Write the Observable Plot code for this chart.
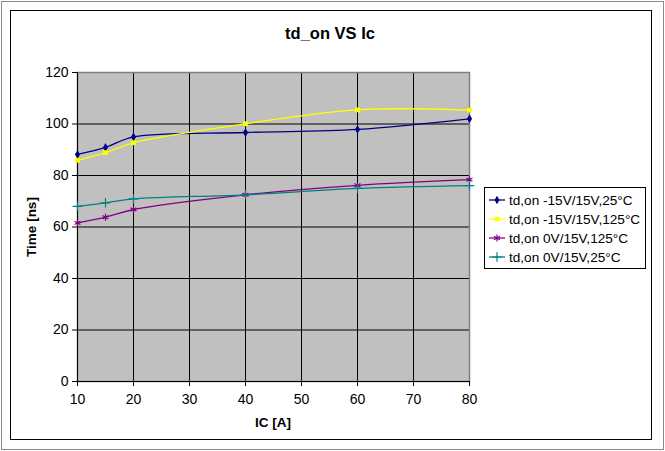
<!DOCTYPE html>
<html><head><meta charset="utf-8">
<script src="https://cdn.jsdelivr.net/npm/d3@7"></script>
<script src="https://cdn.jsdelivr.net/npm/@observablehq/plot@0.6"></script>
<style>
html,body{margin:0;padding:0;background:#fff;}
#wrap{position:relative;width:665px;height:451px;overflow:hidden;font-family:"Liberation Sans",Arial,sans-serif;}
#outer{position:absolute;left:1px;top:1px;width:661px;height:447px;border:1px solid #8a8a8a;box-sizing:content-box;}
#inner{position:absolute;left:10px;top:10px;width:640px;height:428px;border:1px solid #000;}
#chart{position:absolute;left:0;top:0;}
#title{position:absolute;left:285px;width:90px;top:24px;text-align:center;font-weight:bold;font-size:16.5px;white-space:nowrap;}
#ytitle{position:absolute;left:31px;top:227px;transform:translate(-50%,-50%) rotate(-90deg);font-weight:bold;font-size:13.5px;white-space:nowrap;}
#xtitle{position:absolute;left:273px;top:415px;transform:translateX(-50%);font-weight:bold;font-size:13.5px;white-space:nowrap;}
#legend{position:absolute;left:484px;top:187px;width:160px;height:80px;border:1px solid #000;background:#fff;}
.li{position:absolute;left:2px;height:18px;display:flex;align-items:center;font-size:13.6px;white-space:nowrap;}
.li svg{margin-right:2px;}
</style></head>
<body>
<div id="wrap">
  <div id="outer"></div>
  <div id="inner"></div>
  <div id="chart"></div>
  <div id="title">td_on VS Ic</div>
  <div id="ytitle">Time [ns]</div>
  <div id="xtitle">IC [A]</div>
  <div id="legend"></div>
</div>
<script>
const currents = [10, 15, 20, 40, 60, 80];
const seriesNames = ["td,on -15V/15V,25°C", "td,on -15V/15V,125°C", "td,on 0V/15V,125°C", "td,on 0V/15V,25°C"];
const s1 = [88.2, 90.9, 95.0, 96.7, 97.9, 102.0];
const s2 = [85.9, 88.9, 92.7, 100.1, 105.5, 105.4];
const s3 = [61.6, 63.8, 66.8, 72.5, 76.2, 78.4];
const s4 = [68.0, 69.4, 70.9, 72.5, 75.0, 76.1];
const xTicks = [10, 20, 30, 40, 50, 60, 70, 80];
const yTicks = [0, 20, 40, 60, 80, 100, 120];

const colors = ["#000080", "#ffff00", "#800080", "#008080"];
const symbols = ["diamond", "square", "asterisk", "plus"];
const filled = [true, true, false, false];
const values = [s1, s2, s3, s4];

const data = [];
values.forEach((vals, i) => vals.forEach((v, j) => data.push({series: seriesNames[i], idx: i, x: currents[j], y: v})));

const marks = [
  Plot.frame({fill: "#c0c0c0", stroke: "none"}),
  Plot.gridX(xTicks, {stroke: "#000", strokeOpacity: 1, strokeWidth: 1}),
  Plot.gridY(yTicks, {stroke: "#000", strokeOpacity: 1, strokeWidth: 1}),
  Plot.frame({stroke: "#808080", strokeWidth: 1.5}),
  Plot.ruleY([0], {stroke: "#000"}),
  Plot.ruleX([10], {stroke: "#000"}),
  Plot.axisX(xTicks, {tickSize: 5, tickPadding: 8, fontSize: 14, label: null, stroke: "#000"}),
  Plot.axisY(yTicks, {tickSize: 5, tickPadding: 4, fontSize: 14, label: null, stroke: "#000"})
];
values.forEach((vals, i) => {
  const d = data.filter(r => r.idx === i);
  marks.push(Plot.line(d, {x: "x", y: "y", stroke: colors[i], strokeWidth: 1.3, curve: "catmull-rom"}));
});
values.forEach((vals, i) => {
  const d = data.filter(r => r.idx === i);
  marks.push(Plot.dot(d, filled[i]
    ? {x: "x", y: "y", symbol: () => symbols[i], fill: colors[i], stroke: "none", r: 2.7}
    : {x: "x", y: "y", symbol: () => symbols[i], stroke: colors[i], strokeWidth: 1.2, r: 3.2}));
});

const chart = Plot.plot({
  width: 665, height: 451,
  marginLeft: 77, marginRight: 196, marginTop: 72, marginBottom: 70,
  style: {fontFamily: "'Liberation Sans', Arial, sans-serif", fontSize: "14px", color: "#000", background: "transparent"},
  x: {domain: [10, 80]},
  y: {domain: [0, 120]},
  symbol: {type: "identity"},
  marks
});
document.getElementById("chart").appendChild(chart);

const legend = document.getElementById("legend");
seriesNames.forEach((name, i) => {
  const item = document.createElement("div");
  item.className = "li";
  item.style.top = (3 + i * 19) + "px";
  const sym = {diamond: d3.symbolDiamond, square: d3.symbolSquare, asterisk: d3.symbolAsterisk, plus: d3.symbolPlus}[symbols[i]];
  const path = d3.symbol(sym, filled[i] ? 22 : 32)();
  item.innerHTML = `<svg width="20" height="18"><line x1="2" x2="18" y1="9" y2="9" stroke="${colors[i]}" stroke-width="1.3"/>` +
    `<path transform="translate(10,9)" d="${path}" fill="${filled[i] ? colors[i] : "none"}" stroke="${filled[i] ? "none" : colors[i]}" stroke-width="1.2"/></svg>` +
    `<span>${name}</span>`;
  legend.appendChild(item);
});
</script>
</body></html>
